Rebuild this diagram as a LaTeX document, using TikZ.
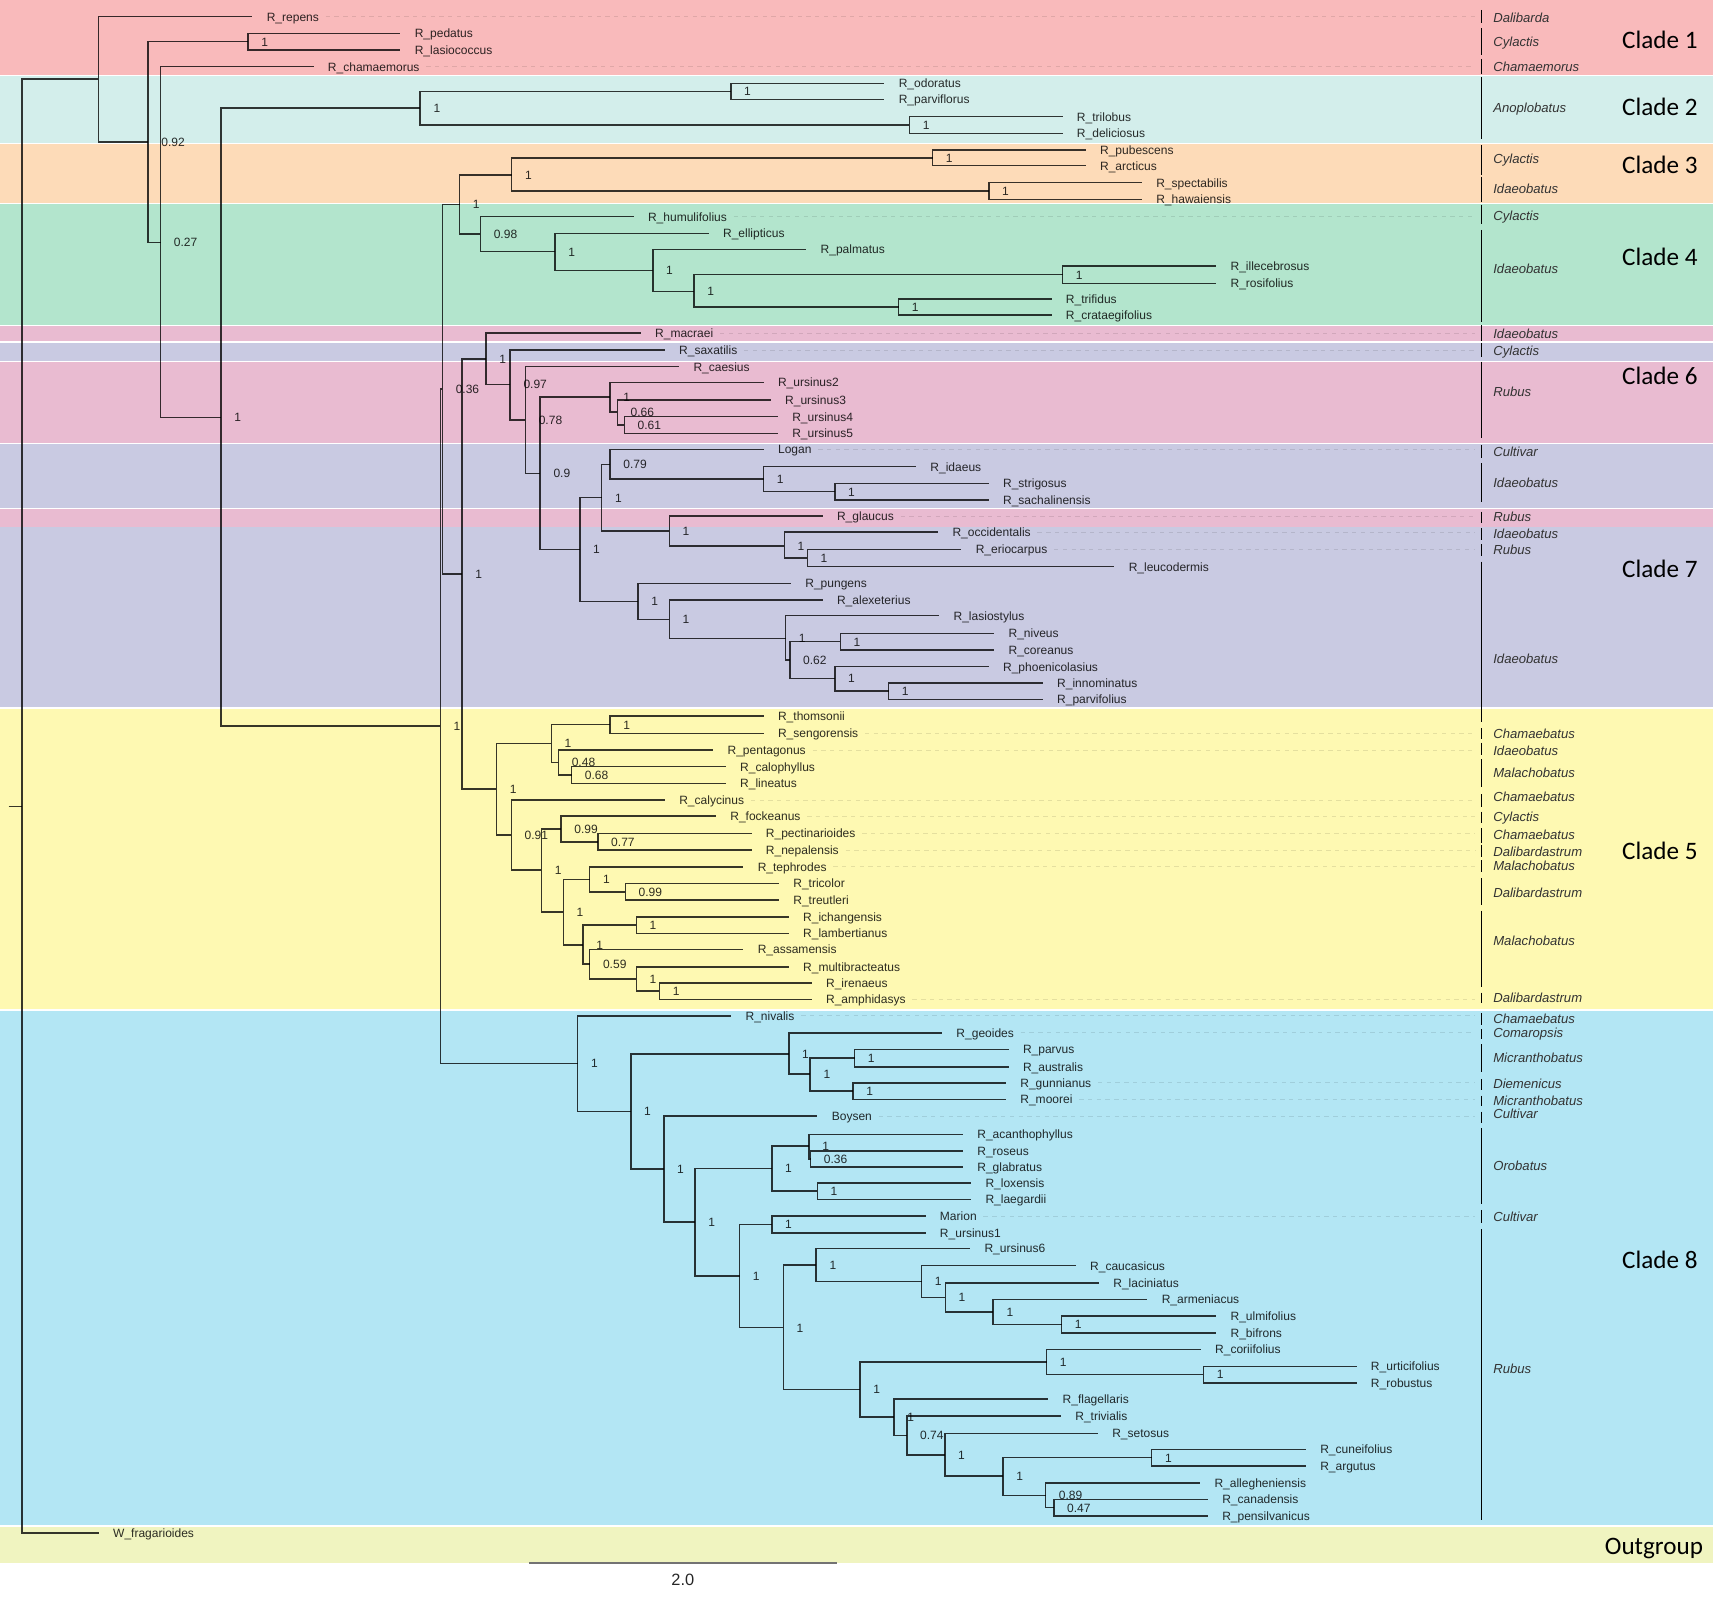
\documentclass[tikz,border=0pt]{standalone}
\usepackage{fontspec}
\setmainfont{Liberation Sans}
\newfontfamily\cladefont{Carlito}
\usetikzlibrary{calc}
\definecolor{cA}{HTML}{F9BABB}
\definecolor{cB}{HTML}{D3EEEB}
\definecolor{cC}{HTML}{FDDBB8}
\definecolor{cD}{HTML}{B3E5CD}
\definecolor{cE}{HTML}{E9BBD1}
\definecolor{cF}{HTML}{C9CAE2}
\definecolor{cG}{HTML}{FEF9B2}
\definecolor{cH}{HTML}{B3E6F4}
\definecolor{cI}{HTML}{F0F4C0}
\tikzset{
  br/.style={draw=black, draw opacity=0.78, line width=1.35pt},
  tiplab/.style={anchor=base west, inner sep=0pt, xshift=13pt, yshift=-4pt, font=\fontsize{11}{13}\selectfont, text=black, text opacity=0.82},
  suplab/.style={anchor=base west, inner sep=0pt, xshift=12pt, yshift=-4pt, font=\fontsize{11}{13}\selectfont, text=black, text opacity=0.82},
  sgbar/.style={draw=black, line width=1.3pt},
  sglab/.style={anchor=base west, inner sep=0pt, yshift=-4.3pt, font=\fontsize{12}{14}\selectfont\itshape, text=black!80},
  cladelab/.style={anchor=base east, inner sep=0pt, yshift=-7.4pt, font=\cladefont\fontsize{23}{26}\selectfont, text=black},
  dotline/.style={draw=black, draw opacity=0.1, dash pattern=on 4pt off 4pt, line width=0.8pt}
}
\newcommand\tipnode[4]{\coordinate (#1) at (#2,#3); \node[tiplab] (L#1) at (#1) {#4};}
\newcommand\inode[4]{\coordinate (#1) at (#2,#3); \ifx\relax#4\relax\else\node[suplab] (S#1) at (#1) {#4};\fi}
\newcommand\kids[2]{\foreach \c in {#2} {\draw[br] (#1) |- (\c);}}
\newcommand\dl[1]{\draw[dotline] ($(L#1.east |- #1)+(6,0)$) -- (#1 -| sgx);}
\newcommand\sgb[5]{\coordinate (#1a) at (1356,#2); \coordinate (#1b) at (1356,#3); \draw[sgbar] (#1a) -- (#1b); \node[sglab] (#1l) at (1366.7,#5) {#4};}
\begin{document}
\begin{tikzpicture}[x=1pt,y=-1pt]
\useasboundingbox (0,0) rectangle (1568,1462);
\fill[white] (0,0) rectangle (1568,1462);
% bands
\fill[cA] (0,0) rectangle (1568,68.7);
\fill[cB] (0,69.6) rectangle (1568,130.6);
\fill[cC] (0,131.8) rectangle (1568,185.5);
\fill[cD] (0,186.7) rectangle (1568,297.5);
\fill[cE] (0,298.4) rectangle (1568,312.4);
\fill[cF] (0,314.2) rectangle (1568,330.1);
\fill[cE] (0,331.3) rectangle (1568,405.2);
\fill[cF] (0,406.4) rectangle (1568,465.3);
\fill[cE] (0,466.2) rectangle (1568,482);
\fill[cF] (0,482.7) rectangle (1568,647.4);
\fill[cG] (0,649.3) rectangle (1568,923.8);
\fill[cH] (0,925) rectangle (1568,1395.9);
\fill[cI] (0,1397.4) rectangle (1568,1430.4);
\coordinate (sgx) at (1350,0);
% tips
\tipnode{repens}{231}{15.3}{R\_repens}
\tipnode{pedatus}{366.5}{30.5}{R\_pedatus}
\tipnode{lasiococcus}{366.5}{45.8}{R\_lasiococcus}
\tipnode{chamaemorus}{287}{61}{R\_chamaemorus}
\tipnode{odoratus}{809.5}{76.3}{R\_odoratus}
\tipnode{parviflorus}{809.5}{90.9}{R\_parviflorus}
\tipnode{trilobus}{972.6}{106.8}{R\_trilobus}
\tipnode{deliciosus}{972.6}{122}{R\_deliciosus}
\tipnode{pubescens}{993.8}{137.3}{R\_pubescens}
\tipnode{arcticus}{993.8}{151.7}{R\_arcticus}
\tipnode{spectabilis}{1045.2}{167.2}{R\_spectabilis}
\tipnode{hawaiensis}{1045.2}{182.5}{R\_hawaiensis}
\tipnode{humulifolius}{580}{198.3}{R\_humulifolius}
\tipnode{ellipticus}{648.7}{213.6}{R\_ellipticus}
\tipnode{palmatus}{738}{228.2}{R\_palmatus}
\tipnode{illecebrosus}{1113.2}{243.5}{R\_illecebrosus}
\tipnode{rosifolius}{1113.2}{259.4}{R\_rosifolius}
\tipnode{trifidus}{962.5}{273.7}{R\_trifidus}
\tipnode{crataegifolius}{962.5}{288.4}{R\_crataegifolius}
\tipnode{macraei}{586.5}{305}{R\_macraei}
\tipnode{saxatilis}{608.5}{320.4}{R\_saxatilis}
\tipnode{caesius}{621.6}{335.7}{R\_caesius}
\tipnode{ursinusB}{699}{350}{R\_ursinus2}
\tipnode{ursinusC}{705.5}{366}{R\_ursinus3}
\tipnode{ursinusD}{712}{381.4}{R\_ursinus4}
\tipnode{ursinusE}{712}{396.7}{R\_ursinus5}
\tipnode{Logan}{699}{411.3}{Logan}
\tipnode{idaeus}{838.5}{427.2}{R\_idaeus}
\tipnode{strigosus}{905}{442.5}{R\_strigosus}
\tipnode{sachalinensis}{905}{457.8}{R\_sachalinensis}
\tipnode{glaucus}{753}{472.4}{R\_glaucus}
\tipnode{occidentalis}{858.7}{487}{R\_occidentalis}
\tipnode{eriocarpus}{880}{502.9}{R\_eriocarpus}
\tipnode{leucodermis}{1020}{518.7}{R\_leucodermis}
\tipnode{pungens}{724}{534}{R\_pungens}
\tipnode{alexeterius}{753}{549.3}{R\_alexeterius}
\tipnode{lasiostylus}{859.7}{563.6}{R\_lasiostylus}
\tipnode{niveus}{910}{579.8}{R\_niveus}
\tipnode{coreanus}{910}{595}{R\_coreanus}
\tipnode{phoenicolasius}{905}{610.3}{R\_phoenicolasius}
\tipnode{innominatus}{954.5}{625}{R\_innominatus}
\tipnode{parvifolius}{954.5}{640.2}{R\_parvifolius}
\tipnode{thomsonii}{699}{655.5}{R\_thomsonii}
\tipnode{sengorensis}{699}{671.3}{R\_sengorensis}
\tipnode{pentagonus}{652.8}{686.6}{R\_pentagonus}
\tipnode{calophyllus}{664.3}{701.8}{R\_calophyllus}
\tipnode{lineatus}{664.3}{717.1}{R\_lineatus}
\tipnode{calycinus}{608.6}{732.4}{R\_calycinus}
\tipnode{fockeanus}{655.3}{747}{R\_fockeanus}
\tipnode{pectinarioides}{687.9}{762.9}{R\_pectinarioides}
\tipnode{nepalensis}{687.9}{778.2}{R\_nepalensis}
\tipnode{tephrodes}{680.4}{793.4}{R\_tephrodes}
\tipnode{tricolor}{713}{808.7}{R\_tricolor}
\tipnode{treutleri}{713}{824}{R\_treutleri}
\tipnode{ichangensis}{722}{839.2}{R\_ichangensis}
\tipnode{lambertianus}{722}{854.5}{R\_lambertianus}
\tipnode{assamensis}{680.4}{869}{R\_assamensis}
\tipnode{multibracteatus}{722}{885}{R\_multibracteatus}
\tipnode{irenaeus}{743}{899.6}{R\_irenaeus}
\tipnode{amphidasys}{743}{914.8}{R\_amphidasys}
\tipnode{nivalis}{669.3}{929.8}{R\_nivalis}
\tipnode{geoides}{862.3}{945.4}{R\_geoides}
\tipnode{parvus}{923.2}{960.6}{R\_parvus}
\tipnode{australis}{923.2}{976.5}{R\_australis}
\tipnode{gunnianus}{920.8}{991.1}{R\_gunnianus}
\tipnode{moorei}{920.8}{1006.4}{R\_moorei}
\tipnode{Boysen}{748.2}{1021.7}{Boysen}
\tipnode{acanthophyllus}{881.4}{1038.4}{R\_acanthophyllus}
\tipnode{roseus}{881.4}{1053.4}{R\_roseus}
\tipnode{glabratus}{881.4}{1068}{R\_glabratus}
\tipnode{loxensis}{888.9}{1082.7}{R\_loxensis}
\tipnode{laegardii}{888.9}{1097.9}{R\_laegardii}
\tipnode{Marion}{847.2}{1113.2}{Marion}
\tipnode{ursinusA}{847.2}{1128.4}{R\_ursinus1}
\tipnode{ursinusF}{888}{1142.8}{R\_ursinus6}
\tipnode{caucasicus}{984.7}{1158.6}{R\_caucasicus}
\tipnode{laciniatus}{1005.9}{1174.2}{R\_laciniatus}
\tipnode{armeniacus}{1050.2}{1189.5}{R\_armeniacus}
\tipnode{ulmifolius}{1113.2}{1204.7}{R\_ulmifolius}
\tipnode{bifrons}{1113.2}{1220}{R\_bifrons}
\tipnode{coriifolius}{1099.1}{1235.2}{R\_coriifolius}
\tipnode{urticifolius}{1241.7}{1250.6}{R\_urticifolius}
\tipnode{robustus}{1241.7}{1265.8}{R\_robustus}
\tipnode{flagellaris}{959.5}{1280.7}{R\_flagellaris}
\tipnode{trivialis}{971.1}{1296.3}{R\_trivialis}
\tipnode{setosus}{1004.9}{1312.2}{R\_setosus}
\tipnode{cuneifolius}{1195.3}{1326.8}{R\_cuneifolius}
\tipnode{argutus}{1195.3}{1341.8}{R\_argutus}
\tipnode{allegheniensis}{1098.5}{1357.3}{R\_allegheniensis}
\tipnode{canadensis}{1105.6}{1372.6}{R\_canadensis}
\tipnode{pensilvanicus}{1105.6}{1387.6}{R\_pensilvanicus}
\tipnode{fragarioides}{90.4}{1403}{W\_fragarioides}
% internal nodes
\inode{Nroot}{20}{738}{}
\inode{Ning}{90}{72.5}{}
\inode{Nb}{135.6}{130}{0.92}
\inode{Npl}{227}{38.2}{1}
\inode{Nc}{147}{221.8}{0.27}
\inode{Nd}{202.4}{382}{1}
\inode{Ntwo}{384.6}{99}{1}
\inode{Nodo}{669}{83.6}{1}
\inode{Ntri}{832.5}{114.4}{1}
\inode{Nbig}{403}{664.5}{1}
\inode{NA}{405}{356}{0.36}
\inode{Nthrfour}{420.7}{187}{1}
\inode{Nthree}{468.4}{160}{1}
\inode{Npub}{853.7}{144.5}{1}
\inode{Nspe}{905.1}{174.9}{1}
\inode{Nfour}{439.8}{214.4}{0.98}
\inode{Nell}{508.1}{230.4}{1}
\inode{Npal}{597.5}{247.6}{1}
\inode{Nill}{635.2}{266.7}{1}
\inode{Nilx}{972.6}{251.4}{1}
\inode{Ntrf}{822.5}{281}{1}
\inode{NB}{423}{525.5}{1}
\inode{Nsix}{445}{328.4}{1}
\inode{Nsax}{467}{352}{0.97}
\inode{Ncae}{481}{384.5}{0.78}
\inode{Nnine}{494.5}{433.4}{0.9}
\inode{Nurs}{558.4}{363.5}{1}
\inode{Nuthree}{565}{377}{0.66}
\inode{Nufour}{571.5}{389}{0.61}
\inode{Nseven}{530.7}{503}{1}
\inode{NLg}{550.8}{455.5}{1}
\inode{Nlog}{558.4}{425}{0.79}
\inode{Nida}{699}{438.5}{1}
\inode{Nstr}{764.2}{450.1}{1}
\inode{Ngla}{612.6}{486}{1}
\inode{Nocc}{718}{499.8}{1}
\inode{Neri}{739}{510.8}{1}
\inode{Npun}{584}{550.5}{1}
\inode{Nale}{612.6}{567}{1}
\inode{Nlas}{719}{584.4}{1}
\inode{Nx}{723}{604}{0.62}
\inode{Nniv}{769.2}{587.4}{1}
\inode{Npho}{764.2}{621}{1}
\inode{Ninn}{813.4}{632.6}{1}
\inode{Nfive}{454.4}{722.4}{1}
\inode{Ntho}{504.6}{680.4}{1}
\inode{Nts}{558.4}{663.4}{1}
\inode{Npen}{511.2}{698}{0.48}
\inode{Ncph}{523.2}{709.5}{0.68}
\inode{Ncal}{468}{764.4}{0.91}
\inode{Nfoc}{495.6}{796.5}{1}
\inode{Nfk}{513.6}{758.8}{0.99}
\inode{Npec}{547.3}{770.5}{0.77}
\inode{Ntep}{515.7}{834.6}{1}
\inode{Ntepb}{539.8}{804.9}{1}
\inode{Ntrc}{572.4}{816.3}{0.99}
\inode{Nich}{533.7}{865.1}{1}
\inode{Nichl}{582.4}{846.8}{1}
\inode{Nass}{539.8}{882.3}{0.59}
\inode{Nmul}{582.4}{896}{1}
\inode{Nire}{603.6}{907.2}{1}
\inode{Neight}{528.8}{973.4}{1}
\inode{Ngeo}{577.4}{1017.4}{1}
\inode{Ngp}{722}{964.8}{1}
\inode{Npa}{741.6}{983.2}{1}
\inode{Nparv}{782.3}{968.5}{1}
\inode{Ngun}{780.8}{998.8}{1}
\inode{Nboy}{607.6}{1070}{1}
\inode{Nou}{636.2}{1118.6}{1}
\inode{Noro}{706.5}{1069.5}{1}
\inode{Nac}{740.6}{1049}{1}
\inode{Nrg}{742}{1060.7}{0.36}
\inode{Nlox}{748.2}{1090.3}{1}
\inode{Nmar}{676.9}{1168}{1}
\inode{Nmu}{706.5}{1120.8}{1}
\inode{Nrub}{717}{1215.3}{1}
\inode{Nusix}{747.1}{1158}{1}
\inode{Ncau}{843.6}{1172.8}{1}
\inode{Nlac}{865.3}{1187.5}{1}
\inode{Narm}{909.1}{1200.8}{1}
\inode{Nulm}{971.7}{1212.3}{1}
\inode{Ncor}{787.2}{1271.7}{1}
\inode{Ncori}{958}{1246.7}{1}
\inode{Nurt}{1101.6}{1258.2}{1}
\inode{Nfla}{818.4}{1297}{1}
\inode{Ntriv}{830}{1313.8}{0.74}
\inode{Nset}{864.8}{1332}{1}
\inode{Ncun}{918.2}{1351}{1}
\inode{Ncunb}{1054.2}{1334.3}{1}
\inode{Nall}{957}{1369}{0.89}
\inode{Ncan}{964.6}{1380.1}{0.47}
% branches
\coordinate (rstem) at (8,738);
\draw[br] (rstem) -- (Nroot);
\kids{Nroot}{Ning,fragarioides}
\kids{Ning}{repens,Nb}
\kids{Nb}{Npl,Nc}
\kids{Npl}{pedatus,lasiococcus}
\kids{Nc}{chamaemorus,Nd}
\kids{Nd}{Ntwo,Nbig}
\kids{Ntwo}{Nodo,Ntri}
\kids{Nodo}{odoratus,parviflorus}
\kids{Ntri}{trilobus,deliciosus}
\kids{Nbig}{NA,Neight}
\kids{NA}{Nthrfour,NB}
\kids{Nthrfour}{Nthree,Nfour}
\kids{Nthree}{Npub,Nspe}
\kids{Npub}{pubescens,arcticus}
\kids{Nspe}{spectabilis,hawaiensis}
\kids{Nfour}{humulifolius,Nell}
\kids{Nell}{ellipticus,Npal}
\kids{Npal}{palmatus,Nill}
\kids{Nill}{Nilx,Ntrf}
\kids{Nilx}{illecebrosus,rosifolius}
\kids{Ntrf}{trifidus,crataegifolius}
\kids{NB}{Nsix,Nfive}
\kids{Nsix}{macraei,Nsax}
\kids{Nsax}{saxatilis,Ncae}
\kids{Ncae}{caesius,Nnine}
\kids{Nnine}{Nurs,Nseven}
\kids{Nurs}{ursinusB,Nuthree}
\kids{Nuthree}{ursinusC,Nufour}
\kids{Nufour}{ursinusD,ursinusE}
\kids{Nseven}{NLg,Npun}
\kids{NLg}{Nlog,Ngla}
\kids{Nlog}{Logan,Nida}
\kids{Nida}{idaeus,Nstr}
\kids{Nstr}{strigosus,sachalinensis}
\kids{Ngla}{glaucus,Nocc}
\kids{Nocc}{occidentalis,Neri}
\kids{Neri}{eriocarpus,leucodermis}
\kids{Npun}{pungens,Nale}
\kids{Nale}{alexeterius,Nlas}
\kids{Nlas}{lasiostylus,Nx}
\kids{Nx}{Nniv,Npho}
\kids{Nniv}{niveus,coreanus}
\kids{Npho}{phoenicolasius,Ninn}
\kids{Ninn}{innominatus,parvifolius}
\kids{Nfive}{Ntho,Ncal}
\kids{Ntho}{Nts,Npen}
\kids{Nts}{thomsonii,sengorensis}
\kids{Npen}{pentagonus,Ncph}
\kids{Ncph}{calophyllus,lineatus}
\kids{Ncal}{calycinus,Nfoc}
\kids{Nfoc}{Nfk,Ntep}
\kids{Nfk}{fockeanus,Npec}
\kids{Npec}{pectinarioides,nepalensis}
\kids{Ntep}{Ntepb,Nich}
\kids{Ntepb}{tephrodes,Ntrc}
\kids{Ntrc}{tricolor,treutleri}
\kids{Nich}{Nichl,Nass}
\kids{Nichl}{ichangensis,lambertianus}
\kids{Nass}{assamensis,Nmul}
\kids{Nmul}{multibracteatus,Nire}
\kids{Nire}{irenaeus,amphidasys}
\kids{Neight}{nivalis,Ngeo}
\kids{Ngeo}{Ngp,Nboy}
\kids{Ngp}{geoides,Npa}
\kids{Npa}{Nparv,Ngun}
\kids{Nparv}{parvus,australis}
\kids{Ngun}{gunnianus,moorei}
\kids{Nboy}{Boysen,Nou}
\kids{Nou}{Noro,Nmar}
\kids{Noro}{Nac,Nlox}
\kids{Nac}{acanthophyllus,Nrg}
\kids{Nrg}{roseus,glabratus}
\kids{Nlox}{loxensis,laegardii}
\kids{Nmar}{Nmu,Nrub}
\kids{Nmu}{Marion,ursinusA}
\kids{Nrub}{Nusix,Ncor}
\kids{Nusix}{ursinusF,Ncau}
\kids{Ncau}{caucasicus,Nlac}
\kids{Nlac}{laciniatus,Narm}
\kids{Narm}{armeniacus,Nulm}
\kids{Nulm}{ulmifolius,bifrons}
\kids{Ncor}{Ncori,Nfla}
\kids{Ncori}{coriifolius,Nurt}
\kids{Nurt}{urticifolius,robustus}
\kids{Nfla}{flagellaris,Ntriv}
\kids{Ntriv}{trivialis,Nset}
\kids{Nset}{setosus,Ncun}
\kids{Ncun}{Ncunb,Nall}
\kids{Ncunb}{cuneifolius,argutus}
\kids{Nall}{allegheniensis,Ncan}
\kids{Ncan}{canadensis,pensilvanicus}
% dashed guide lines
\foreach \t in {repens,chamaemorus,humulifolius,macraei,saxatilis,Logan,glaucus,occidentalis,eriocarpus,sengorensis,pentagonus,calycinus,fockeanus,pectinarioides,nepalensis,tephrodes,amphidasys,nivalis,geoides,gunnianus,moorei,Boysen,Marion} {\dl{\t}}
% subgenus bars
\sgb{g1}{9}{21}{Dalibarda}{15.9}
\sgb{g2}{26}{50}{Cylactis}{38}
\sgb{g3}{54}{68}{Chamaemorus}{61}
\sgb{g4}{70.8}{127.5}{Anoplobatus}{99}
\sgb{g5}{132.7}{160.2}{Cylactis}{145.8}
\sgb{g6}{161.7}{184.6}{Idaeobatus}{172.4}
\sgb{g7}{187.6}{205}{Cylactis}{197.7}
\sgb{g8}{210.5}{294.4}{Idaeobatus}{246.5}
\sgb{g9}{297.5}{311.8}{Idaeobatus}{305.7}
\sgb{g10}{314.2}{327}{Cylactis}{321}
\sgb{g11}{331}{401.2}{Rubus}{358.5}
\sgb{g12}{407.3}{419.5}{Cultivar}{413.4}
\sgb{g13}{424}{459.2}{Idaeobatus}{441.8}
\sgb{g14}{468.3}{479}{Rubus}{473.5}
\sgb{g15}{483.6}{494.3}{Idaeobatus}{488.2}
\sgb{g16}{498}{509}{Rubus}{503.4}
\sgb{g17}{514}{660.6}{Idaeobatus}{602.6}
\sgb{g18}{666.6}{676.7}{Chamaebatus}{672.1}
\sgb{g19}{679.8}{691}{Idaeobatus}{687.4}
\sgb{g20}{695}{720.6}{Malachobatus}{707.2}
\sgb{g21}{726.8}{739}{Chamaebatus}{729.8}
\sgb{g22}{743}{753}{Cylactis}{747.5}
\sgb{g23}{758.2}{771.3}{Chamaebatus}{763.7}
\sgb{g24}{773.4}{784.1}{Dalibardastrum}{779.5}
\sgb{g25}{787.2}{797.9}{Malachobatus}{792.3}
\sgb{g26}{804}{828.3}{Dalibardastrum}{816.8}
\sgb{g27}{833.5}{903.7}{Malachobatus}{861.3}
\sgb{g28}{908.6}{918.3}{Dalibardastrum}{913.2}
\sgb{g29}{927.5}{938.2}{Chamaebatus}{932.7}
\sgb{g30}{942.1}{951.3}{Comaropsis}{945.8}
\sgb{g31}{955.9}{980.9}{Micranthobatus}{968.1}
\sgb{g32}{987.9}{997.7}{Diemenicus}{992.5}
\sgb{g33}{1002.9}{1012.3}{Micranthobatus}{1007.5}
\sgb{g34}{1017.5}{1027.6}{Cultivar}{1019.7}
\sgb{g35}{1032.8}{1102}{Orobatus}{1067.3}
\sgb{g36}{1107.5}{1119.1}{Cultivar}{1113.6}
\sgb{g37}{1125.2}{1391.3}{Rubus}{1253}
% clade labels
\node[cladelab] (clA) at (1554,37.2) {Clade 1};
\node[cladelab] (clB) at (1554,98.5) {Clade 2};
\node[cladelab] (clC) at (1554,151) {Clade 3};
\node[cladelab] (clD) at (1554,236) {Clade 4};
\node[cladelab] (clF) at (1554,344.8) {Clade 6};
\node[cladelab] (clG) at (1554,521) {Clade 7};
\node[cladelab] (clE) at (1554,779.5) {Clade 5};
\node[cladelab] (clH) at (1554,1153.3) {Clade 8};
\node[cladelab] (clO) at (1559,1415.7) {Outgroup};
% scale bar
\coordinate (sbL) at (484.5,1430.4);
\coordinate (sbR) at (765.7,1430.4);
\draw[draw=black!55, line width=1.6pt] (sbL) -- (sbR);
\node[anchor=base, inner sep=0pt, font=\fontsize{15}{17}\selectfont, text=black!85] (sblab) at (625,1451.5) {2.0};
\end{tikzpicture}
\end{document}
